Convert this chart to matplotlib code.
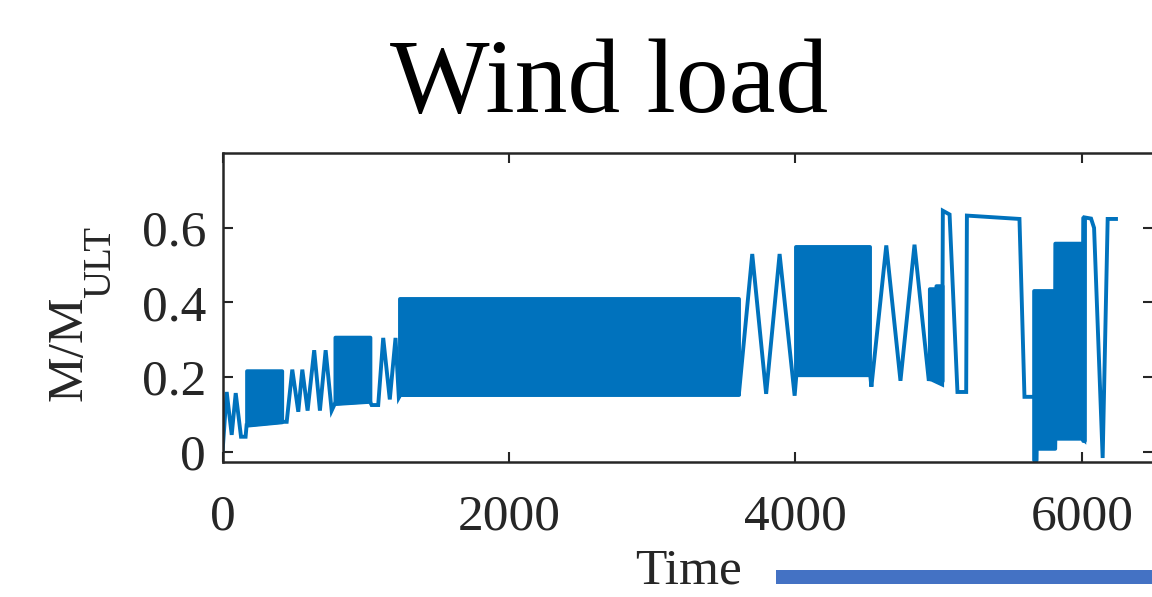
import numpy as np
import matplotlib
matplotlib.use('Agg')
import matplotlib.pyplot as plt
from matplotlib.patches import Rectangle

plt.rcParams['font.family'] = 'Liberation Serif'

## ------------------------------ DATA ------------------------------------ ##
## sparse part of the load history (time, M/M_ULT)
path_t = [0, 28, 63, 91, 128, 160, 167, 412, 447, 486,
          528, 556, 593, 639, 679, 719, 761, 784, 1028, 1040,
          1086, 1121, 1167, 1207, 1230, 1240, 3605, 3698, 3795, 3889,
          3994, 4006, 4522, 4530, 4634, 4733, 4831, 4931, 4935, 5024,
          5029, 5076, 5131, 5192, 5197, 5564, 5599, 5663, 6017, 6020,
          6064, 6085, 6145, 6180, 6238]
path_y = [0.005, 0.16, 0.045, 0.157, 0.04, 0.04, 0.071, 0.08, 0.08, 0.22,
          0.107, 0.22, 0.11, 0.272, 0.11, 0.272, 0.11, 0.129, 0.135, 0.125,
          0.125, 0.305, 0.14, 0.305, 0.145, 0.152, 0.155, 0.53, 0.155, 0.53,
          0.15, 0.205, 0.205, 0.174, 0.553, 0.19, 0.555, 0.19, 0.196, 0.18,
          0.646, 0.636, 0.16, 0.16, 0.633, 0.624, 0.147, 0.147, 0.03, 0.628,
          0.625, 0.60, -0.017, 0.624, 0.624]

## dense cycling blocks: envelope (time, lower, upper)
band1_t = [167, 412]
band1_lo = [0.071, 0.08]
band1_hi = [0.217, 0.217]
band2_t = [784, 1028]
band2_lo = [0.129, 0.135]
band2_hi = [0.307, 0.307]
band3_t = [1240, 3605]
band3_lo = [0.152, 0.152]
band3_hi = [0.408, 0.408]
band4_t = [4006, 4522]
band4_lo = [0.205, 0.205]
band4_hi = [0.548, 0.548]
band5_t = [4935, 4980, 4981, 5024]
band5_lo = [0.196, 0.196, 0.19, 0.19]
band5_hi = [0.437, 0.437, 0.445, 0.445]
band6_t = [5663, 5680, 5681, 5810, 5811, 6005, 6006, 6017]
band6_lo = [-0.022, -0.022, 0.009, 0.009, 0.036, 0.036, 0.03, 0.03]
band6_hi = [0.432, 0.432, 0.432, 0.432, 0.559, 0.559, 0.628, 0.628]

bands = [(band1_t, band1_lo, band1_hi), (band2_t, band2_lo, band2_hi),
         (band3_t, band3_lo, band3_hi), (band4_t, band4_lo, band4_hi),
         (band5_t, band5_lo, band5_hi), (band6_t, band6_lo, band6_hi)]

x_ticks = [0, 2000, 4000, 6000]
y_ticks = [0, 0.2, 0.4, 0.6]
y_ticklabels = ['0', '0.2', '0.4', '0.6']

## ----------------------------- PLOT ------------------------------------- ##
blue = '#0072BD'
ink = '#262626'
lw = 2.8
fig = plt.figure(figsize=(11.52, 5.97), dpi=100)
ax = fig.add_axes([0.1933, 0.2266, 0.8080, 0.5166])

for bt, blo, bhi in bands:
    ax.fill_between(bt, blo, bhi, color=blue, edgecolor=blue, lw=lw)
ax.plot(path_t, path_y, color=blue, lw=lw, solid_joinstyle='miter')

ax.set_xlim(0, 6500)
ax.set_ylim(-0.027, 0.8)
ax.set_xticks(x_ticks)
ax.set_xticklabels([str(v) for v in x_ticks])
ax.set_yticks(y_ticks)
ax.set_yticklabels(y_ticklabels)
ax.tick_params(direction='in', length=7, width=1.5, labelsize=37,
               top=True, right=True, colors=ink, labelcolor=ink)
ax.tick_params(axis='y', pad=12)
ax.tick_params(axis='x', pad=23)
for sp in ax.spines.values():
    sp.set_linewidth(1.8)
    sp.set_color(ink)

ax.set_xlabel('Time', fontsize=37, color=ink, labelpad=6)

## y label M/M with a big subscript ULT, drawn as two rotated texts
fig.text(93 / 1152, (597 - 401) / 597, 'M/M', fontsize=37, rotation=90,
         ha='right', va='bottom', color=ink)
fig.text(119 / 1152, (597 - 298) / 597, 'ULT', fontsize=28, rotation=90,
         ha='right', va='bottom', color=ink)

fig.text(609 / 1152, 0.8124, 'Wind load', fontsize=76, ha='center',
         va='baseline', color='black')

## blue bar under the axis
fig.add_artist(Rectangle((776 / 1152, 0.0218), 1 - 776 / 1152, 0.0234,
                         transform=fig.transFigure, color='#4472C4', lw=0))

fig.savefig('out.png', dpi=100)
